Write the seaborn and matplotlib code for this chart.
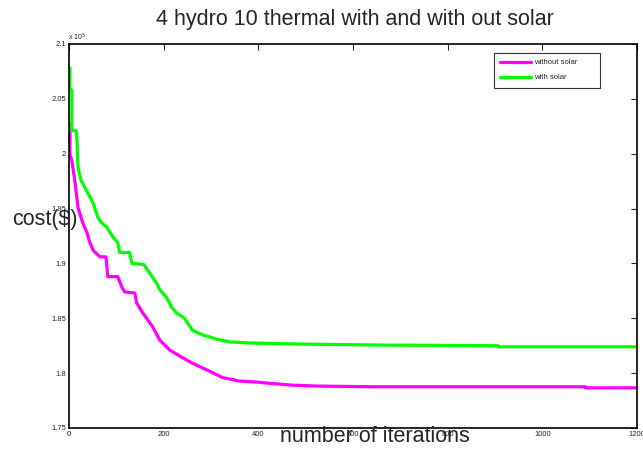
import matplotlib
matplotlib.use("Agg")
import matplotlib.pyplot as plt
import seaborn as sns
import pandas as pd

# ---- data (cost in units of 1e5) ----
iter_without = [0, 2, 2, 6, 13, 19, 29, 38, 44, 51, 65, 78, 80, 82, 103, 112, 118, 139, 143, 154,
                164, 177, 192, 213, 240, 261, 291, 324, 360, 396, 417, 472, 528, 640, 1091, 1091, 1200]
cost_without = [2.028, 2.028, 1.999, 1.994, 1.973, 1.951, 1.937, 1.928, 1.919, 1.912, 1.906, 1.906,
                1.897, 1.888, 1.888, 1.878, 1.874, 1.873, 1.864, 1.856, 1.850, 1.842, 1.830, 1.821,
                1.814, 1.809, 1.803, 1.796, 1.7928, 1.7919, 1.791, 1.789, 1.7882, 1.7876, 1.7876,
                1.7866, 1.7866]

iter_with = [0, 2, 2, 6, 6, 15, 17, 19, 25, 40, 51, 61, 69, 80, 93, 103, 107, 128, 133, 158, 171,
             185, 192, 206, 217, 227, 244, 261, 282, 312, 339, 381, 486, 655, 907, 907, 1200]
cost_with = [2.078, 2.078, 2.058, 2.058, 2.021, 2.021, 2.0125, 1.988, 1.976, 1.964, 1.955, 1.942,
             1.937, 1.933, 1.924, 1.919, 1.910, 1.910, 1.900, 1.899, 1.891, 1.882, 1.876, 1.869,
             1.860, 1.855, 1.850, 1.839, 1.835, 1.831, 1.8285, 1.8275, 1.8265, 1.8256, 1.8250,
             1.8240, 1.8240]

series_names = ["without solar", "with solar"]
series_colors = ["#ff00ff", "#00ff00"]
x_ticks = [0, 200, 400, 600, 800, 1000, 1200]
y_ticks = [1.75, 1.8, 1.85, 1.9, 1.95, 2.0, 2.05, 2.1]
y_tick_labels = ["1.75", "1.8", "1.85", "1.9", "1.95", "2", "2.05", "2.1"]

df = pd.concat([
    pd.DataFrame({"iteration": iter_without, "cost": cost_without, "series": series_names[0]}),
    pd.DataFrame({"iteration": iter_with, "cost": cost_with, "series": series_names[1]}),
], ignore_index=True)

sns.set_style("white")
plt.rcParams["font.family"] = ["Liberation Sans", "DejaVu Sans"]

fig = plt.figure(figsize=(6.43, 4.51), dpi=100)
ax = fig.add_axes([69 / 643, 1 - 428 / 451, (637 - 69) / 643, (428 - 44) / 451])

sns.lineplot(data=df, x="iteration", y="cost", hue="series", palette=series_colors,
             hue_order=series_names, linewidth=2.3, ax=ax,
             estimator=None, sort=False)

ax.set_xlim(0, 1200)
ax.set_ylim(1.75, 2.1)
ax.set_xticks(x_ticks)
ax.set_xticklabels([str(t) for t in x_ticks], fontsize=5.5)
ax.set_yticks(y_ticks)
ax.set_yticklabels(y_tick_labels, fontsize=5.5)
ax.tick_params(direction="in", length=4, width=0.8, top=True, right=True, pad=2)
for s in ax.spines.values():
    s.set_visible(True)
    s.set_color("black")
    s.set_linewidth(1.2)

ax.set_xlabel("")
ax.set_ylabel("")
fig.text(375 / 643, 1 - 437 / 451, "number of iterations", fontsize=15.5, ha="center", va="center")
fig.text(45 / 643, 1 - 220 / 451, "cost($)", fontsize=15.5, ha="center", va="center")
fig.text(355 / 643, 1 - 20 / 451, "4 hydro 10 thermal with and with out solar",
         fontsize=15.5, ha="center", va="center")
fig.text(68 / 643, 1 - 37 / 451, r"x 10$^5$", fontsize=5, ha="left", va="center")

leg = ax.legend(loc="upper left", bbox_to_anchor=(494 / 643, 1 - 87 / 451, 106 / 643, 34 / 451),
                bbox_transform=fig.transFigure, mode="expand", fontsize=5.5, frameon=True,
                fancybox=False, edgecolor="black", handlelength=4.0, handletextpad=0.5,
                borderpad=0.8, labelspacing=1.0, borderaxespad=0)
leg.get_frame().set_linewidth(0.8)
for line in leg.get_lines():
    line.set_linewidth(2.3)

fig.savefig("out.png", dpi=100)
